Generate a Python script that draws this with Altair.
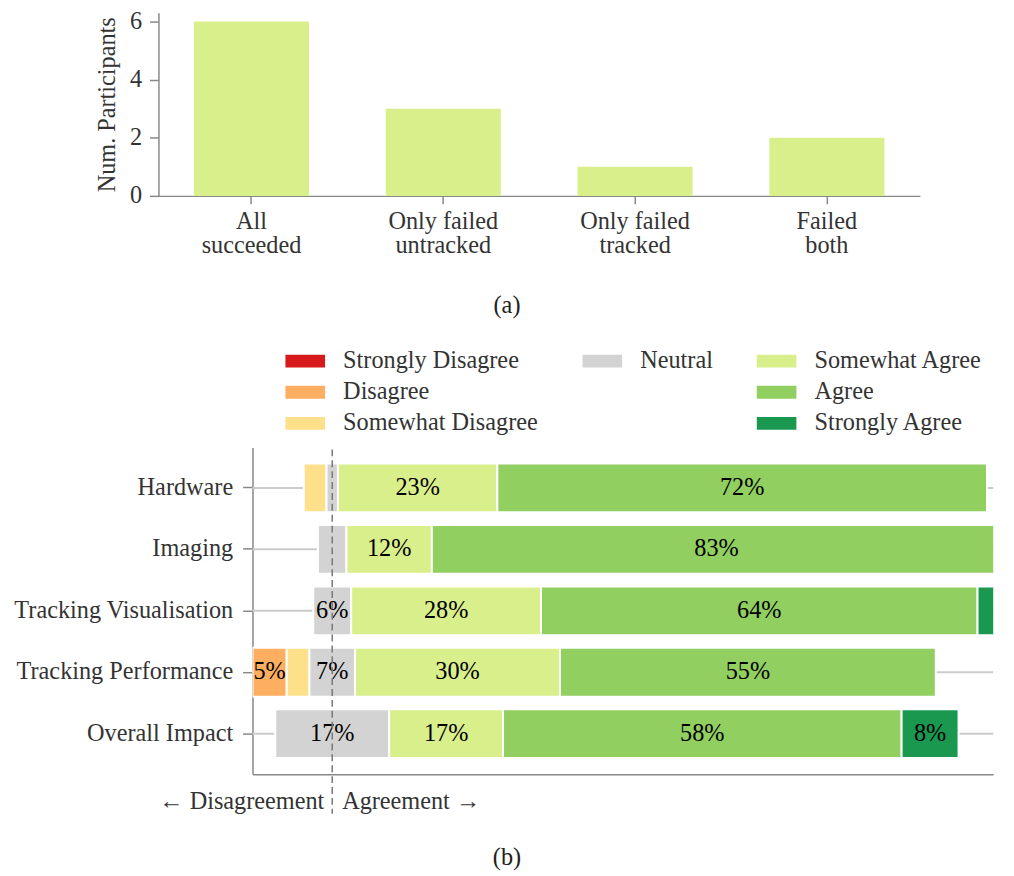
import altair as alt
import pandas as pd

FONT = "Liberation Serif"
FS = 24.5
TEXT = "#333333"
AXIS = "#888888"

# ---- (a) task outcomes per participant
outcomes = ["All\nsucceeded", "Only failed\nuntracked", "Only failed\ntracked", "Failed\nboth"]
participants = [6, 3, 1, 2]

# ---- (b) Likert responses (counts per answer level)
categories = ["Hardware", "Imaging", "Tracking Visualisation", "Tracking Performance", "Overall Impact"]
levels = ["Strongly Disagree", "Disagree", "Somewhat Disagree", "Neutral",
          "Somewhat Agree", "Agree", "Strongly Agree"]
level_colors = ["#d7191c", "#fdae61", "#fee08b", "#d3d3d3", "#d9ef8b", "#91cf60", "#1a9850"]
hardware = [0, 0, 2, 1, 14, 43, 0]
imaging = [0, 0, 0, 1, 3, 20, 0]
tracking_vis = [0, 0, 0, 2, 10, 23, 1]
tracking_perf = [0, 3, 2, 4, 18, 33, 0]
overall = [0, 0, 0, 2, 2, 7, 1]
responses = [hardware, imaging, tracking_vis, tracking_perf, overall]

# diverging layout: neutral block centred on zero
rows = []
for cat, counts in zip(categories, responses):
    total = sum(counts)
    pct = [100.0 * c / total for c in counts]
    start = -(sum(pct[:3]) + pct[3] / 2)
    for lvl, p in zip(levels, pct):
        if p > 0:
            lab = f"{round(p)}%" if round(p) >= 5 else ""
            rows.append({"category": cat, "level": lvl, "x0": start, "x1": start + p,
                         "mid": start + p / 2, "label": lab})
        start += p
likert = pd.DataFrame(rows)

# legend fills column by column; two blank slots keep Neutral alone in the middle column
legend_order = levels[:4] + [" ", "  "] + levels[4:]
legend_colors = [dict(zip(levels, level_colors)).get(k, "#ffffff") for k in legend_order]

# ---------------- chart (a)
A_W = 674
A_SHIFT = 95  # y axis sits left of the shared column origin
bars_a = pd.DataFrame({"outcome": outcomes, "n": participants})
chart_a = alt.Chart(bars_a).mark_bar(color="#d9ef8b").encode(
    x=alt.X("outcome:N", sort=outcomes,
            scale=alt.Scale(range=[-A_SHIFT, A_W], paddingInner=0.4, paddingOuter=0.185),
            axis=alt.Axis(title=None, labelAngle=0, labelExpr="split(datum.label, '\\n')",
                          labelLineHeight=24.5, tickSize=8, labelPadding=6,
                          labelBaseline="top")),
    y=alt.Y("n:Q", scale=alt.Scale(domain=[0, 6.3], nice=False, zero=True),
            axis=alt.Axis(title="Num. Participants", values=[0, 2, 4, 6], grid=False,
                          offset=A_SHIFT, tickSize=9, labelPadding=8, titlePadding=10)),
).properties(width=A_W, height=185,
             title=alt.TitleParams("(a)", orient="bottom", offset=37, dx=-80,
                                   font=FONT, fontSize=FS, fontWeight="normal", color="#222222"))

# ---------------- chart (b)
B_W, B_H = 748, 330
PX_PER_PCT = 6.9
x_min = likert["x0"].min()
x_max = x_min + B_W / PX_PER_PCT   # the longest bar runs off the right edge
ysc = alt.Scale(domain=categories, paddingInner=0.206, paddingOuter=0.262)
xsc = alt.Scale(domain=[x_min, x_max], nice=False, zero=False)

row_lines = alt.Chart(pd.DataFrame({"category": categories})).mark_rule(
    color="#cccccc", strokeWidth=2).encode(
    y=alt.Y("category:N", sort=categories, scale=ysc,
            axis=alt.Axis(title=None, tickSize=10, labelPadding=10, domain=True, labelLimit=400)),
    x=alt.datum(x_min, scale=xsc), x2=alt.datum(x_max))

segments = alt.Chart(likert).mark_bar(stroke="white", strokeWidth=2, clip=True).encode(
    y=alt.Y("category:N", sort=categories, scale=ysc),
    x=alt.X("x0:Q", scale=xsc, axis=alt.Axis(title=None, labels=False, ticks=False, grid=False)),
    x2="x1:Q",
    color=alt.Color("level:N", scale=alt.Scale(domain=legend_order, range=legend_colors),
                    legend=alt.Legend(title=None, orient="none", legendX=41, legendY=-99.5,
                                      columns=3, symbolType="M-2,-0.65H2V0.65H-2Z",
                                      symbolSize=400, symbolStrokeWidth=0,
                                      labelFont=FONT, labelFontSize=FS, labelColor=TEXT,
                                      labelLimit=400, labelOffset=26, columnPadding=44,
                                      rowPadding=6.5)),
)

seg_labels = alt.Chart(likert).mark_text(font=FONT, fontSize=FS, color="black").encode(
    y=alt.Y("category:N", sort=categories, scale=ysc),
    x=alt.X("mid:Q", scale=xsc),
    text="label:N")

zero_line = alt.Chart(pd.DataFrame({"z": [0]})).mark_rule(
    color="#777777", strokeWidth=1.5, strokeDash=[7, 4]).encode(
    x=alt.X("z:Q", scale=xsc), y=alt.value(2), y2=alt.value(B_H + 40))

side_text = pd.DataFrame({"z": [0, 0], "t": ["\u2190 Disagreement", "Agreement \u2192"],
                          "side": ["left", "right"]})
dis_text = alt.Chart(side_text[side_text.side == "left"]).mark_text(
    font=FONT, fontSize=FS, color=TEXT, align="right", dx=-8).encode(
    x=alt.X("z:Q", scale=xsc), y=alt.value(B_H + 28), text="t:N")
agr_text = alt.Chart(side_text[side_text.side == "right"]).mark_text(
    font=FONT, fontSize=FS, color=TEXT, align="left", dx=10).encode(
    x=alt.X("z:Q", scale=xsc), y=alt.value(B_H + 28), text="t:N")

chart_b = alt.layer(row_lines, segments, seg_labels, zero_line, dis_text, agr_text).properties(
    width=B_W, height=B_H,
    title=alt.TitleParams("(b)", orient="bottom", offset=32, dx=-117,
                          font=FONT, fontSize=FS, fontWeight="normal", color="#222222"))

chart = alt.vconcat(chart_a, chart_b, spacing=31).resolve_legend(
    color="independent"
).properties(
    padding={"left": 13, "top": 3.5, "right": 0, "bottom": 0}
).configure_view(stroke=None).configure_axis(
    labelFont=FONT, labelFontSize=FS, labelColor=TEXT, titleFont=FONT, titleFontSize=FS,
    titleColor=TEXT, titleFontWeight="normal", domainColor=AXIS, tickColor=AXIS,
    domainWidth=1.5, tickWidth=1.5, grid=False)

chart.save("out.html", embed_options={"renderer": "svg", "actions": False})
